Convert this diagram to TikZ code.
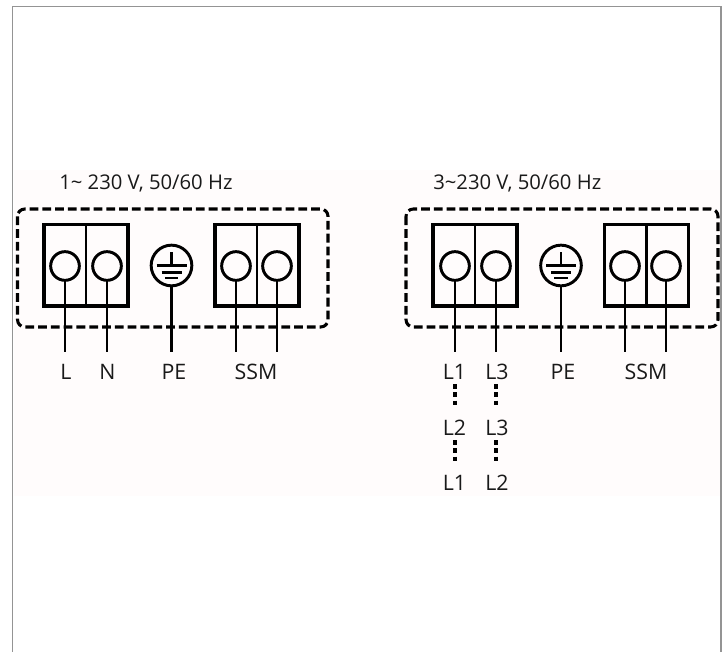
\documentclass[tikz,border=0pt]{standalone}
\usepackage{fontspec}
\setmainfont{Open Sans}
\tikzset{
  px/.style={x=0.75pt,y=-0.75pt},
  frameline/.style={draw=black!42,line width=1pt},
  housing/.style={draw=black,line width=2.3pt,dash pattern=on 6.6pt off 3pt,rounded corners=5.5pt},
  termbox/.style={rectangle,draw=black,line width=2.5pt,inner sep=0pt,minimum width=63pt,minimum height=61pt},
  divider/.style={draw=black,line width=2.2pt},
  termcircle/.style={circle,draw=black,line width=2.2pt,inner sep=0pt,minimum size=21.5pt,outer sep=0pt},
  pecircle/.style={circle,draw=black,line width=2.2pt,inner sep=0pt,minimum size=30.5pt,outer sep=0pt},
  wire/.style={draw=black,line width=2.2pt},
  earthbar/.style={draw=black,line width=1.8pt},
  jumper/.style={draw=black,line width=2.4pt,dash pattern=on 3.6pt off 2.6pt},
  lab/.style={inner sep=0pt,font=\fontsize{16pt}{18pt}\selectfont,text=black!90},
  ttl/.style={inner sep=0pt,font=\fontsize{15.2pt}{18pt}\selectfont,text=black!90},
}
\newcommand{\earthmark}[1]{%
  \draw[earthbar] (#1.north) ++(0,7) -- (#1.center);
  \draw[earthbar] ([xshift=-11.25pt]#1.center) -- ([xshift=11.25pt]#1.center);
  \draw[earthbar] ([xshift=-7.5pt,yshift=-5.2pt]#1.center) -- ([xshift=7.5pt,yshift=-5.2pt]#1.center);
  \draw[earthbar] ([xshift=-5pt,yshift=-9.2pt]#1.center) -- ([xshift=5pt,yshift=-9.2pt]#1.center);
}
\begin{document}
\begin{tikzpicture}[px]
\useasboundingbox (0,0) rectangle (728,652);
\fill[white] (0,0) rectangle (728,652);
\fill[fill=red!1!white] (14,170) rectangle (720,496);
\draw[frameline] (12.5,652) -- (12.5,6.5) -- (721,6.5) -- (721,652);

% Left group
\node[ttl,anchor=west] (t1) at (59,183) {1\textasciitilde{} 230 V, 50/60 Hz};
\draw[housing] (17.5,209) rectangle (328,327);
\node[termbox] (a) at (86,265.5) {};
\node[termbox] (b) at (257,265.5) {};
\draw[divider] (a.north) -- (a.south);
\draw[divider] (b.north) -- (b.south);
\node[termcircle] (c1) at (65,266) {};
\node[termcircle] (c2) at (107,266) {};
\node[pecircle] (pe1) at (171.5,265.5) {};
\node[termcircle] (c3) at (236,266) {};
\node[termcircle] (c4) at (277,266) {};
\earthmark{pe1}
\coordinate (e1) at (65,352);
\coordinate (e2) at (107,352);
\coordinate (e3) at (171.5,352);
\coordinate (e4) at (236,352);
\coordinate (e5) at (277,352);
\draw[wire] (c1.south) -- (e1);
\draw[wire] (c2.south) -- (e2);
\draw[wire] (pe1.south) -- (e3);
\draw[wire] (c3.south) -- (e4);
\draw[wire] (c4.south) -- (e5);
\node[lab] (lL) at (66,371.5) {L};
\node[lab] (lN) at (107.5,371.5) {N};
\node[lab] (lPE) at (174,371.5) {PE};
\node[lab] (lS) at (256,371.5) {SSM};

% Right group
\node[ttl,anchor=west] (t2) at (433,183) {3\textasciitilde230 V, 50/60 Hz};
\draw[housing] (406,209) rectangle (718,327);
\node[termbox] (ra) at (475,265.5) {};
\node[termbox] (rb) at (646.5,265.5) {};
\draw[divider] (ra.north) -- (ra.south);
\draw[divider] (rb.north) -- (rb.south);
\node[termcircle] (rc1) at (455,266) {};
\node[termcircle] (rc2) at (496,266) {};
\node[pecircle] (pe2) at (561,265.5) {};
\node[termcircle] (rc3) at (625,266) {};
\node[termcircle] (rc4) at (666,266) {};
\earthmark{pe2}
\coordinate (re1) at (455,352);
\coordinate (re2) at (496,352);
\coordinate (re3) at (561,352);
\coordinate (re4) at (625,352);
\coordinate (re5) at (666,352);
\draw[wire] (rc1.south) -- (re1);
\draw[wire] (rc2.south) -- (re2);
\draw[wire] (pe2.south) -- (re3);
\draw[wire] (rc3.south) -- (re4);
\draw[wire] (rc4.south) -- (re5);
\node[lab] (r1a) at (454.5,371.5) {L1};
\node[lab] (r1b) at (497,371.5) {L3};
\node[lab] (rPE) at (563,371.5) {PE};
\node[lab] (rS) at (646,371.5) {SSM};
\node[lab] (r2a) at (454.5,427.5) {L2};
\node[lab] (r2b) at (497,427.5) {L3};
\node[lab] (r3a) at (454.5,482.5) {L1};
\node[lab] (r3b) at (497,482.5) {L2};
\coordinate (j1) at (455,384);
\coordinate (j2) at (455,407);
\coordinate (j3) at (496,384);
\coordinate (j4) at (496,407);
\coordinate (j5) at (455,440);
\coordinate (j6) at (455,463);
\coordinate (j7) at (496,440);
\coordinate (j8) at (496,463);
\draw[jumper] (j1) -- (j2);
\draw[jumper] (j3) -- (j4);
\draw[jumper] (j5) -- (j6);
\draw[jumper] (j7) -- (j8);
\end{tikzpicture}
\end{document}
